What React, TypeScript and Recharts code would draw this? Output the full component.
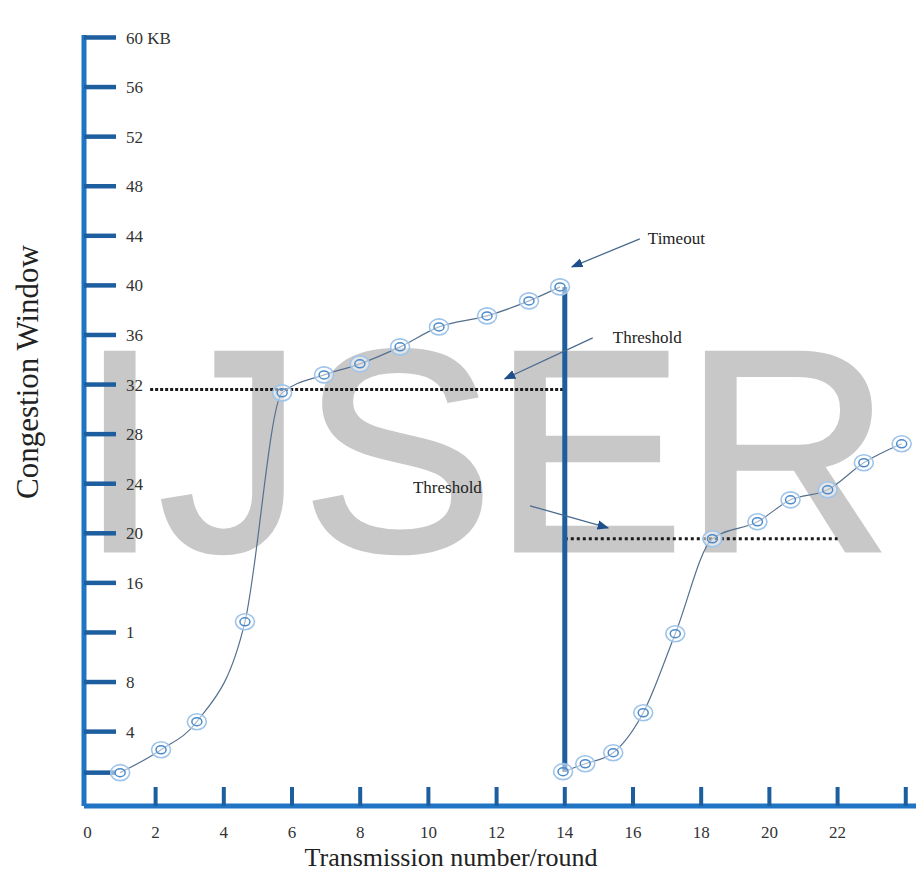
import React from 'react';
import { ComposedChart, Line, XAxis, YAxis, ReferenceLine, ReferenceDot } from 'recharts';

// first run: slow start up to the threshold, then linear growth until the timeout
const roundsBefore = [0.96, 2.16, 3.21, 4.62, 5.71, 6.94, 7.99, 9.17, 10.31, 11.72, 12.95, 13.86];
const cwndBefore = [0.69, 2.54, 4.8, 12.86, 31.33, 32.78, 33.67, 35.04, 36.65, 37.54, 38.75, 39.88];

// after the timeout: restart from 1 with the halved threshold
const roundsAfter = [13.95, 14.6, 15.42, 16.3, 17.24, 18.33, 19.65, 20.62, 21.71, 22.77, 23.88];
const cwndAfter = [0.77, 1.41, 2.3, 5.52, 11.9, 19.56, 20.93, 22.7, 23.51, 25.69, 27.22];

const firstThreshold = 31.6;
const secondThreshold = 19.56;
const timeoutRound = 14;

const xTicks = [0, 2, 4, 6, 8, 10, 12, 14, 16, 18, 20, 22, 24];
const xTickLabels = ['0', '2', '4', '6', '8', '10', '12', '14', '16', '18', '20', '22', ''];
const yTicks = [0.69, 4, 8, 12, 16, 20, 24, 28, 32, 36, 40, 44, 48, 52, 56, 60];
const yTickLabels = ['', '4', '8', '1', '16', '20', '24', '28', '32', '36', '40', '44', '48', '52', '56', '60 KB'];

const AXIS_BLUE = '#1f74c4';
const TICK_BLUE = '#1c5e9e';
const SERIF = '"Liberation Serif", "Times New Roman", serif';

const before = roundsBefore.map((round, i) => ({ round, cwnd: cwndBefore[i] }));
const after = roundsAfter.map((round, i) => ({ round, cwnd: cwndAfter[i] }));

const RingDot = (props: any) => {
  const { cx, cy } = props;
  if (cx == null || cy == null) return null;
  return (
    <g>
      <ellipse cx={cx} cy={cy} rx={9.5} ry={8} fill="#fff" fillOpacity={0.5} stroke="#9fc4ea" strokeWidth={1.6} />
      <ellipse cx={cx} cy={cy} rx={5} ry={4} fill="none" stroke="#4b8bcb" strokeWidth={1.5} />
    </g>
  );
};

const XTick = (props: any) => {
  const { x, y, payload } = props;
  const label = xTickLabels[xTicks.indexOf(payload.value)];
  return (
    <g>
      {payload.value > 0 && <line x1={x} x2={x} y1={y} y2={y - 19} stroke={TICK_BLUE} strokeWidth={4} />}
      <text x={x} y={y + 32} textAnchor="middle" fill="#333" fontSize={17} fontFamily={SERIF}>{label}</text>
    </g>
  );
};

const noteLabel = (value: string) => ({ value, position: 'right' as const, fill: '#222', fontSize: 17, fontFamily: SERIF });

export default function App() {
  return (
    <div style={{ position: 'absolute', left: 0, top: 0, width: 916, height: 878, background: '#fff' }}>
      <svg width={916} height={878} style={{ position: 'absolute', left: 0, top: 0 }}>
        <text x={80} y={550} fontSize={286} fontFamily='"Liberation Sans", Arial, sans-serif' fill="#c8c8c8" stroke="#c8c8c8" strokeWidth={5}>IJSER</text>
        <text x={0} y={0} transform="translate(38 372) rotate(-90)" textAnchor="middle" fontSize={31} fontFamily={SERIF} fill="#222">Congestion Window</text>
        <text x={451} y={866} textAnchor="middle" fontSize={26} fontFamily={SERIF} fill="#222">Transmission number/round</text>
      </svg>
      <div style={{ position: 'absolute', left: 0, top: 0 }}>
        <ComposedChart width={916} height={878} margin={{ top: 35, right: 0, bottom: 0, left: 84 }}>
          <defs>
            <marker id="head" viewBox="0 0 10 10" refX="9" refY="5" markerWidth="9" markerHeight="9" orient="auto">
              <path d="M0,1 L10,5 L0,9 z" fill="#1f4f8a" />
            </marker>
          </defs>
          <XAxis
            type="number"
            dataKey="round"
            domain={[-0.1, 24.3]}
            ticks={xTicks}
            interval={0}
            allowDataOverflow
            height={72}
            axisLine={{ stroke: AXIS_BLUE, strokeWidth: 5 }}
            tickLine={false}
            tickSize={0}
            tickMargin={0}
            tick={(p: any) => <XTick {...p} />}
          />
          <YAxis
            type="number"
            domain={[-2, 60.2]}
            ticks={yTicks}
            interval={0}
            allowDataOverflow
            mirror
            axisLine={{ stroke: AXIS_BLUE, strokeWidth: 5 }}
            tickLine={{ stroke: TICK_BLUE, strokeWidth: 4.5 }}
            tickSize={32}
            tickMargin={10}
            tick={{ fill: '#333', fontSize: 17, fontFamily: SERIF }}
            tickFormatter={(v: number) => yTickLabels[yTicks.indexOf(v)]}
          />
          <ReferenceLine segment={[{ x: 1.84, y: firstThreshold }, { x: timeoutRound, y: firstThreshold }]} stroke="#1a1a1a" strokeWidth={3} strokeDasharray="3 2" />
          <ReferenceLine segment={[{ x: timeoutRound, y: secondThreshold }, { x: 22, y: secondThreshold }]} stroke="#1a1a1a" strokeWidth={3} strokeDasharray="3 3" />
          <ReferenceLine segment={[{ x: timeoutRound, y: cwndAfter[0] }, { x: timeoutRound, y: cwndBefore[cwndBefore.length - 1] }]} stroke={TICK_BLUE} strokeWidth={5} />

          <ReferenceLine segment={[{ x: 16.2, y: 43.75 }, { x: 14.21, y: 41.5 }]} stroke="#4a6a90" strokeWidth={1.3} markerEnd="url(#head)" />
          <ReferenceLine segment={[{ x: 14.82, y: 35.77 }, { x: 12.24, y: 32.46 }]} stroke="#4a6a90" strokeWidth={1.3} markerEnd="url(#head)" />
          <ReferenceLine segment={[{ x: 12.98, y: 22.22 }, { x: 15.27, y: 20.44 }]} stroke="#4a6a90" strokeWidth={1.3} markerEnd="url(#head)" />
          <ReferenceDot x={16.29} y={43.83} r={0} fill="none" stroke="none" label={noteLabel('Timeout')} />
          <ReferenceDot x={15.26} y={35.85} r={0} fill="none" stroke="none" label={noteLabel('Threshold')} />
          <ReferenceDot x={9.4} y={23.75} r={0} fill="none" stroke="none" label={noteLabel('Threshold')} />

          <Line data={before} dataKey="cwnd" type="monotone" stroke="#56708f" strokeWidth={1.2} dot={RingDot} isAnimationActive={false} />
          <Line data={after} dataKey="cwnd" type="monotone" stroke="#56708f" strokeWidth={1.2} dot={RingDot} isAnimationActive={false} />
        </ComposedChart>
      </div>
    </div>
  );
}
